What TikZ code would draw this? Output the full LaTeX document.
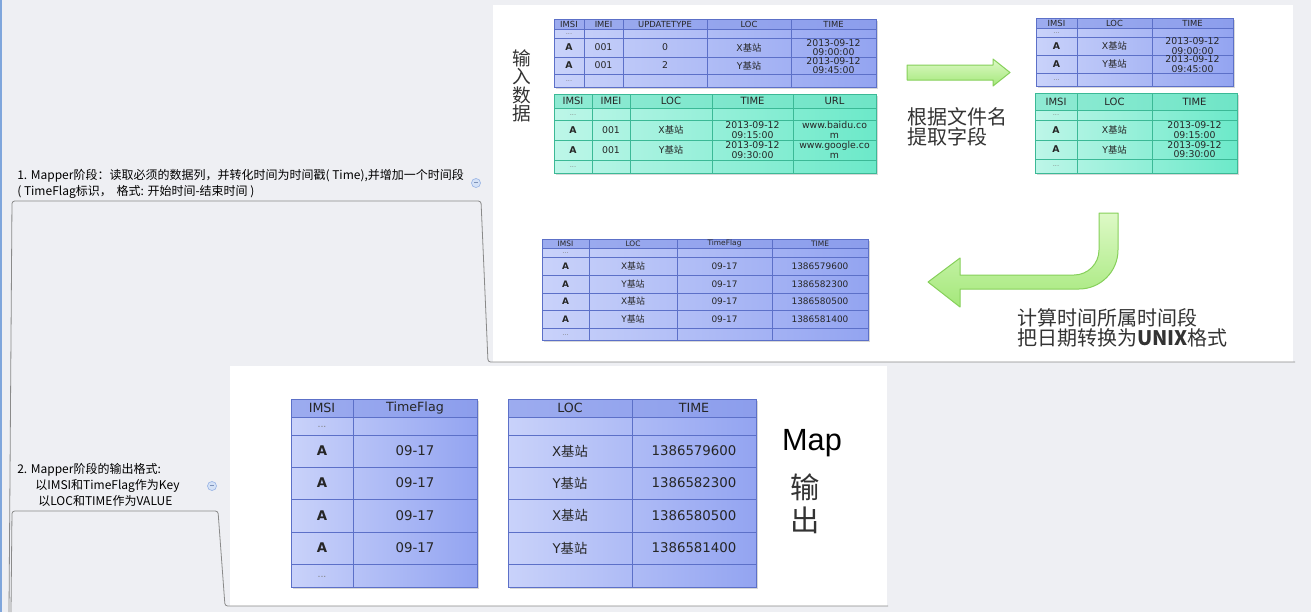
\documentclass[tikz,border=0pt]{standalone}
\usepackage{fontspec}
\setmainfont{Noto Sans CJK SC}
\newfontfamily\tabfont{DejaVu Sans}
\newfontfamily\mapfont{Liberation Sans}
\newfontfamily\cjk{Noto Sans CJK SC}
\usepackage{tikz}
\usetikzlibrary{shadows}

\definecolor{bgcol}{HTML}{EEEFF3}
\definecolor{edgeblue}{HTML}{7FA6DC}
\definecolor{linkgray}{HTML}{8A8A8A}
\definecolor{blueL}{HTML}{C9D2FA}
\definecolor{blueR}{HTML}{93A4F1}
\definecolor{blueH}{HTML}{8A9CEB}
\definecolor{bluegrid}{HTML}{5C70C8}
\definecolor{tealL}{HTML}{BDF6E8}
\definecolor{tealR}{HTML}{6CE9C9}
\definecolor{tealH}{HTML}{72E3C6}
\definecolor{tealgrid}{HTML}{3BB996}
\definecolor{greenL}{HTML}{DDF9C6}
\definecolor{greenM}{HTML}{A4E87A}
\definecolor{greenD}{HTML}{86D05A}
\definecolor{txtcol}{HTML}{262626}
\definecolor{zhtext}{HTML}{333333}
\definecolor{foldfill}{HTML}{D5E2F6}
\definecolor{folddraw}{HTML}{9DB7E6}

\newcommand\jz[1]{#1{\cjk 基站}}

\begin{document}
\begin{tikzpicture}[x=0.75pt,y=-0.75pt,
  cell/.style={font=\tabfont\fontsize{7}{7.3}\selectfont,align=center,inner sep=0pt,text=txtcol},
  cellsm/.style={font=\tabfont\fontsize{6.7}{7}\selectfont,inner sep=0pt,text=txtcol},
  cellbig/.style={font=\tabfont\fontsize{10}{11}\selectfont,inner sep=0pt,text=txtcol},
  headsm/.style={font=\tabfont\fontsize{6.3}{7}\selectfont,inner sep=0pt,text=txtcol},
  headtiny/.style={font=\tabfont\fontsize{5.6}{6}\selectfont,inner sep=0pt,text=txtcol},
  headmd/.style={font=\tabfont\fontsize{7.5}{8}\selectfont,inner sep=0pt,text=txtcol},
  headbig/.style={font=\tabfont\fontsize{9.5}{10}\selectfont,inner sep=0pt,text=txtcol},
  dots/.style={font=\tabfont\fontsize{5}{5}\selectfont,inner sep=0pt,text=gray},
  dotsbig/.style={font=\tabfont\fontsize{7}{7}\selectfont,inner sep=0pt,text=gray},
  bluetab/.style={draw=bluegrid,line width=0.75pt,left color=blueL,right color=blueR,
    drop shadow={shadow xshift=1.2pt,shadow yshift=-1.2pt,opacity=0.3}},
  tealtab/.style={draw=tealgrid,line width=0.75pt,left color=tealL,right color=tealR,
    drop shadow={shadow xshift=1.2pt,shadow yshift=-1.2pt,opacity=0.3}},
  bluehead/.style={fill=blueH,fill opacity=0.7},
  tealhead/.style={fill=tealH,fill opacity=0.6},
  bline/.style={draw=bluegrid,line width=0.6pt},
  tline/.style={draw=tealgrid,line width=0.6pt},
  greenarr/.style={draw=greenD,line width=0.75pt,line join=round,top color=greenL,bottom color=greenM},
  mind/.style={font=\fontsize{9}{11.6}\selectfont,anchor=west,align=left,inner sep=0pt,text=black},
  zhnote/.style={font=\fontsize{15}{15}\selectfont,anchor=west,align=left,inner sep=0pt,text=zhtext},
  link/.style={draw=linkgray,line width=0.6pt},
  fold/.style={circle,draw=folddraw,fill=foldfill,line width=0.5pt,minimum size=6.8pt,inner sep=0pt}]
\useasboundingbox (0,0) rectangle (1311,612);
\fill[bgcol] (0,0) rectangle (1311,612);
\fill[edgeblue] (0,0) rectangle (2,612);

% panels
\fill[white] (493,5) rectangle (1293,362);
\fill[white] (230,366) rectangle (887,606);

% mind map links
\draw[link,rounded corners=2pt] (9,612) -- (12,201) -- (481,201) -- (488,362) -- (1295,362);
\draw[link,rounded corners=2pt] (11,612) -- (12,511) -- (218,511) -- (225,606) -- (888,606);

% mind map texts
\node[mind] (step1) at (17,183.75) {1. Mapper阶段：读取必须的数据列，并转化时间为时间戳( Time),并增加一个时间段\\( TimeFlag标识，\hspace{0.4em}格式: 开始时间-结束时间 )};
\node[fold] (fold1) at (476,183) {\color{folddraw!80!black}\rule[0.15ex]{3pt}{0.45pt}};
\node[mind] (step2a) at (17,470) {2. Mapper阶段的输出格式:};
\node[mind] (step2b) at (35,486) {以IMSI和TimeFlag作为Key};
\node[mind] (step2c) at (38,501) {以LOC和TIME作为VALUE};
\node[fold] (fold2) at (212,486) {\color{folddraw!80!black}\rule[0.15ex]{3pt}{0.45pt}};

% input data
\node[font=\fontsize{14}{12}\selectfont,align=center,inner sep=0pt,text=zhtext] (inlbl) at (522,86) {输\\入\\数\\据};

% table 1
\path[bluetab] (554,19) rectangle (876,87);
\fill[bluehead] (554,19) rectangle (876,29);
\foreach \gx in {584,623,707,791} \draw[bline] (\gx,19) -- (\gx,87);
\foreach \gy in {29,38,57,74} \draw[bline] (554,\gy) -- (876,\gy);
\draw[bline] (554,19) rectangle (876,87);
\foreach \cx/\txt [count=\i] in {569/IMSI,603.5/IMEI,665/UPDATETYPE,749/LOC,833.5/TIME}
  \node[headsm] (t1h\i) at (\cx,24) {\txt};
\node[dots] (t1d1) at (569,34) {...};
\foreach \cx/\txt [count=\i] in {569/\textbf{A},603.5/001,665/0,749/\jz{X},833.5/2013-09-12\\09:00:00}
  \node[cell] (t1a\i) at (\cx,47.5) {\txt};
\foreach \cx/\txt [count=\i] in {569/\textbf{A},603.5/001,665/2,749/\jz{Y},833.5/2013-09-12\\09:45:00}
  \node[cell] (t1b\i) at (\cx,65.5) {\txt};
\node[dots] (t1d2) at (569,81) {...};

% table 2
\path[tealtab] (554,94) rectangle (876,173);
\fill[tealhead] (554,94) rectangle (876,108);
\foreach \gx in {592,630,712,793} \draw[tline] (\gx,94) -- (\gx,173);
\foreach \gy in {108,120,140,160} \draw[tline] (554,\gy) -- (876,\gy);
\draw[tline] (554,94) rectangle (876,173);
\foreach \cx/\txt [count=\i] in {573/IMSI,611/IMEI,671/LOC,752.5/TIME,834.5/URL}
  \node[headmd] (t2h\i) at (\cx,101) {\txt};
\node[dots] (t2d1) at (573,115) {...};
\foreach \cx/\txt [count=\i] in {573/\textbf{A},611/001,671/\jz{X},752.5/2013-09-12\\09:15:00,834.5/www.baidu.co\\m}
  \node[cell] (t2a\i) at (\cx,130) {\txt};
\foreach \cx/\txt [count=\i] in {573/\textbf{A},611/001,671/\jz{Y},752.5/2013-09-12\\09:30:00,834.5/www.google.co\\m}
  \node[cell] (t2b\i) at (\cx,150) {\txt};
\node[dots] (t2d2) at (573,167) {...};

% arrow to the right
\path[greenarr] (907,65) -- (993,65) -- (993,59) -- (1010,72.5) -- (993,86) -- (993,80) -- (907,80) -- cycle;
\node[zhnote] (picknote) at (907,127) {根据文件名\\提取字段};

% table 3
\path[bluetab] (1036,18) rectangle (1233,86);
\fill[bluehead] (1036,18) rectangle (1233,28);
\foreach \gx in {1077,1152} \draw[bline] (\gx,18) -- (\gx,86);
\foreach \gy in {28,37,55,73} \draw[bline] (1036,\gy) -- (1233,\gy);
\draw[bline] (1036,18) rectangle (1233,86);
\foreach \cx/\txt [count=\i] in {1056.5/IMSI,1114.5/LOC,1192.5/TIME}
  \node[headsm] (t3h\i) at (\cx,23) {\txt};
\node[dots] (t3d1) at (1056.5,33) {...};
\foreach \cx/\txt [count=\i] in {1056.5/\textbf{A},1114.5/\jz{X},1192.5/2013-09-12\\09:00:00}
  \node[cell] (t3a\i) at (\cx,46) {\txt};
\foreach \cx/\txt [count=\i] in {1056.5/\textbf{A},1114.5/\jz{Y},1192.5/2013-09-12\\09:45:00}
  \node[cell] (t3b\i) at (\cx,64) {\txt};
\node[dots] (t3d2) at (1056.5,80) {...};

% table 4
\path[tealtab] (1035,93) rectangle (1237,173);
\fill[tealhead] (1035,93) rectangle (1237,110);
\foreach \gx in {1077,1152} \draw[tline] (\gx,93) -- (\gx,173);
\foreach \gy in {110,120,140,159} \draw[tline] (1035,\gy) -- (1237,\gy);
\draw[tline] (1035,93) rectangle (1237,173);
\foreach \cx/\txt [count=\i] in {1056/IMSI,1114.5/LOC,1194.5/TIME}
  \node[headmd] (t4h\i) at (\cx,101.5) {\txt};
\node[dots] (t4d1) at (1056,115.5) {...};
\foreach \cx/\txt [count=\i] in {1056/\textbf{A},1114.5/\jz{X},1194.5/2013-09-12\\09:15:00}
  \node[cell] (t4a\i) at (\cx,130) {\txt};
\foreach \cx/\txt [count=\i] in {1056/\textbf{A},1114.5/\jz{Y},1194.5/2013-09-12\\09:30:00}
  \node[cell] (t4b\i) at (\cx,149.5) {\txt};
\node[dots] (t4d2) at (1056,166.5) {...};

% bent arrow back to the left
\path[greenarr] (1099,213) -- (1118,213) -- (1118,250)
  .. controls (1118,271.5) and (1100.5,289) .. (1079,289)
  -- (960,289) -- (960,307) -- (928,282) -- (960,258) -- (960,275) -- (1074,275)
  .. controls (1087.75,275) and (1099,263.75) .. (1099,250) -- cycle;
\node[zhnote] (unixnote) at (1017,328) {计算时间所属时间段\\把日期转换为\textbf{UNIX}格式};

% table 5
\path[bluetab] (542,239) rectangle (868,340);
\fill[bluehead] (542,239) rectangle (868,248);
\foreach \gx in {589,677,772} \draw[bline] (\gx,239) -- (\gx,340);
\foreach \gy in {248,257,275,293,310,328} \draw[bline] (542,\gy) -- (868,\gy);
\draw[bline] (542,239) rectangle (868,340);
\foreach \cx/\txt [count=\i] in {565.5/IMSI,633/LOC,724.5/TimeFlag,820/TIME}
  \node[headtiny] (t5h\i) at (\cx,243.5) {\txt};
\node[dots] (t5d1) at (565.5,253) {...};
\foreach \ry/\loc/\tm [count=\j] in {266/X/1386579600,284/Y/1386582300,301.5/X/1386580500,319/Y/1386581400} {
  \node[cellsm] (t5a\j) at (565.5,\ry) {\textbf{A}};
  \node[cellsm] (t5b\j) at (633,\ry) {\jz{\loc}};
  \node[cellsm] (t5c\j) at (724.5,\ry) {09-17};
  \node[cellsm] (t5d\j) at (820,\ry) {\tm};
}
\node[dots] (t5d2) at (565.5,335) {...};

% table 6
\path[bluetab] (291,399) rectangle (477,587);
\fill[bluehead] (291,399) rectangle (477,417);
\draw[bline] (353,399) -- (353,587);
\foreach \gy in {417,435,467,499,532,564} \draw[bline] (291,\gy) -- (477,\gy);
\draw[bline] (291,399) rectangle (477,587);
\node[headbig] (t6h1) at (322,408) {IMSI};
\node[headbig] (t6h2) at (415,408) {TimeFlag};
\node[dotsbig] (t6d1) at (322,427) {...};
\foreach \ry [count=\j] in {451,483,515.5,548} {
  \node[cellbig] (t6a\j) at (322,\ry) {\textbf{A}};
  \node[cellbig] (t6b\j) at (415,\ry) {09-17};
}
\node[dotsbig] (t6d2) at (322,577) {...};

% table 7
\path[bluetab] (508,399) rectangle (756,587);
\fill[bluehead] (508,399) rectangle (756,417);
\draw[bline] (632,399) -- (632,587);
\foreach \gy in {417,435,467,499,532,564} \draw[bline] (508,\gy) -- (756,\gy);
\draw[bline] (508,399) rectangle (756,587);
\node[headbig] (t7h1) at (570,408) {LOC};
\node[headbig] (t7h2) at (694,408) {TIME};
\foreach \ry/\loc/\tm [count=\j] in {451/X/1386579600,483/Y/1386582300,515.5/X/1386580500,548/Y/1386581400} {
  \node[cellbig] (t7a\j) at (570,\ry) {\jz{\loc}};
  \node[cellbig] (t7b\j) at (694,\ry) {\tm};
}

% map output
\node[font=\mapfont\fontsize{23}{23}\selectfont,inner sep=0pt] (maplbl) at (812,443) {Map};
\node[font=\fontsize{22}{25}\selectfont,align=center,inner sep=0pt,text=zhtext] (outlbl) at (805,504) {输\\出};
\end{tikzpicture}
\end{document}
